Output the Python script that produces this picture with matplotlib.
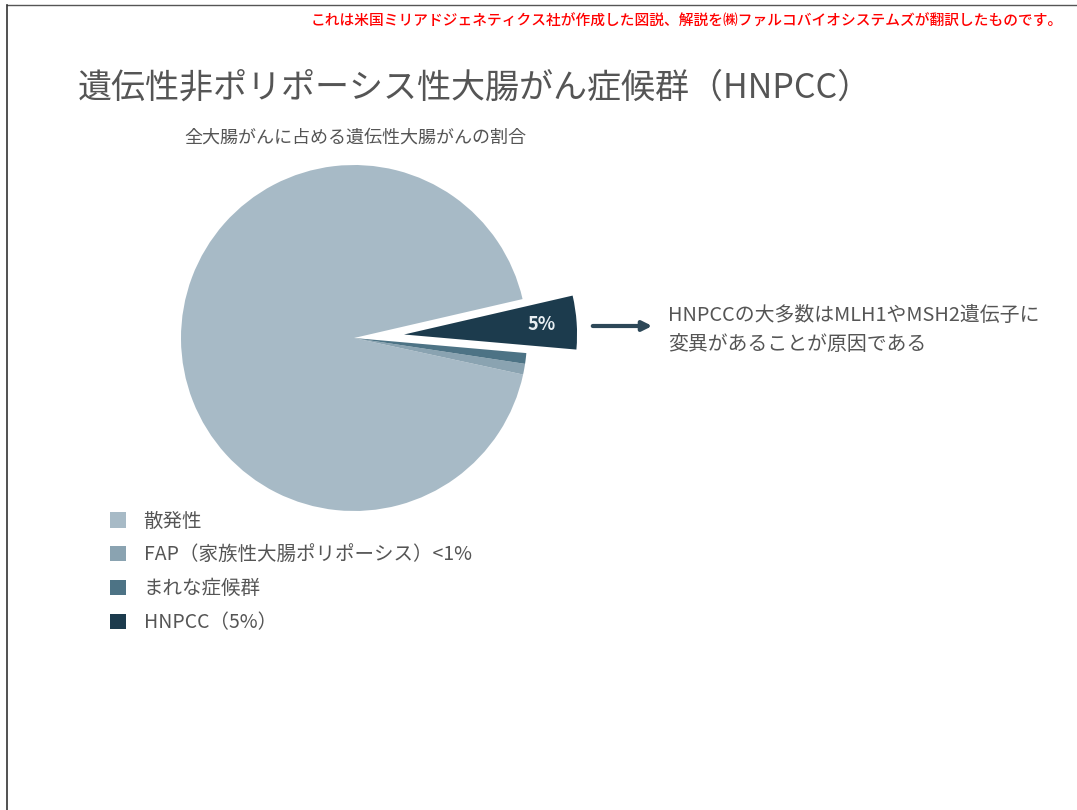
import matplotlib
matplotlib.use('Agg')
import matplotlib.pyplot as plt
from matplotlib.lines import Line2D
import numpy as np

plt.rcParams['font.family'] = ['Noto Sans CJK JP', 'DejaVu Sans']

# データ
labels = ['散発性', 'FAP（家族性大腸ポリポーシス）<1%', 'まれな症候群', 'HNPCC（5%）']
shares = [93, 1, 1, 5]
colors = ['#a7bac6', '#8aa3b1', '#4d7385', '#1c3b4d']
explode = [0, 0, 0, 0.29]
wedge_label = '5%'

title = '遺伝性非ポリポーシス性大腸がん症候群（HNPCC）'
subtitle = '全大腸がんに占める遺伝性大腸がんの割合'
note = 'HNPCCの大多数はMLH1やMSH2遺伝子に\n変異があることが原因である'
credit = 'これは米国ミリアドジェネティクス社が作成した図説、解説を㈱ファルコバイオシステムズが翻訳したものです。'

W, H = 1077, 810
fig = plt.figure(figsize=(W / 100, H / 100), dpi=100)


def fx(px):  # ピクセル -> figure座標
    return px / W


def fy(py):
    return 1 - py / H


# 枠線
fig.add_artist(Line2D([fx(7), 1], [fy(5), fy(5)], color='#555555', lw=1))
fig.add_artist(Line2D([fx(7), fx(7)], [fy(5), 0], color='#333333', lw=1.2))

# 円グラフ
cx, cy, r, half = 354, 338, 173, 300
ax = fig.add_axes([fx(cx - half), fy(cy + half), 2 * half / W, 2 * half / H])
wedges, _ = ax.pie(shares, colors=colors, explode=explode, startangle=13,
                   counterclock=True, radius=1,
                   wedgeprops=dict(linewidth=0))
ax.set_xlim(-half / r, half / r)
ax.set_ylim(-half / r, half / r)
ax.set_aspect('equal')
ax.axis('off')

w = wedges[3]
mid = np.deg2rad((w.theta1 + w.theta2) / 2)
ax.text(w.center[0] + 0.8 * np.cos(mid), w.center[1] + 0.8 * np.sin(mid), wedge_label,
        color='#e8eef2', fontsize=13, fontweight='bold', ha='center', va='center')

# タイトル
fig.text(fx(78), fy(88), title, fontsize=24.5, color='#555555', va='center', ha='left')
fig.text(fx(355), fy(138), subtitle, fontsize=13, color='#555555', va='center', ha='center')
fig.text(fx(1063), fy(22), credit, fontsize=10.6, color='#ff0000', va='center', ha='right',
         fontweight='medium')

# 矢印と注記
ax2 = fig.add_axes([0, 0, 1, 1], facecolor='none')
ax2.set_xlim(0, W)
ax2.set_ylim(H, 0)
ax2.axis('off')
ax2.annotate('', xy=(655, 326), xytext=(590, 326),
             arrowprops=dict(arrowstyle='-|>', color='#2d4858', lw=3, mutation_scale=14))
ax2.text(668, 330, note, fontsize=14.3, color='#555555', va='center', ha='left', linespacing=1.45)

# 凡例
fig.legend(wedges, labels, loc='upper left', bbox_to_anchor=(fx(92), fy(493)),
           frameon=False, fontsize=14, labelcolor='#555555', handlelength=0.85,
           handleheight=0.85, handletextpad=0.9, labelspacing=0.66)

fig.savefig('out.png', dpi=100)
